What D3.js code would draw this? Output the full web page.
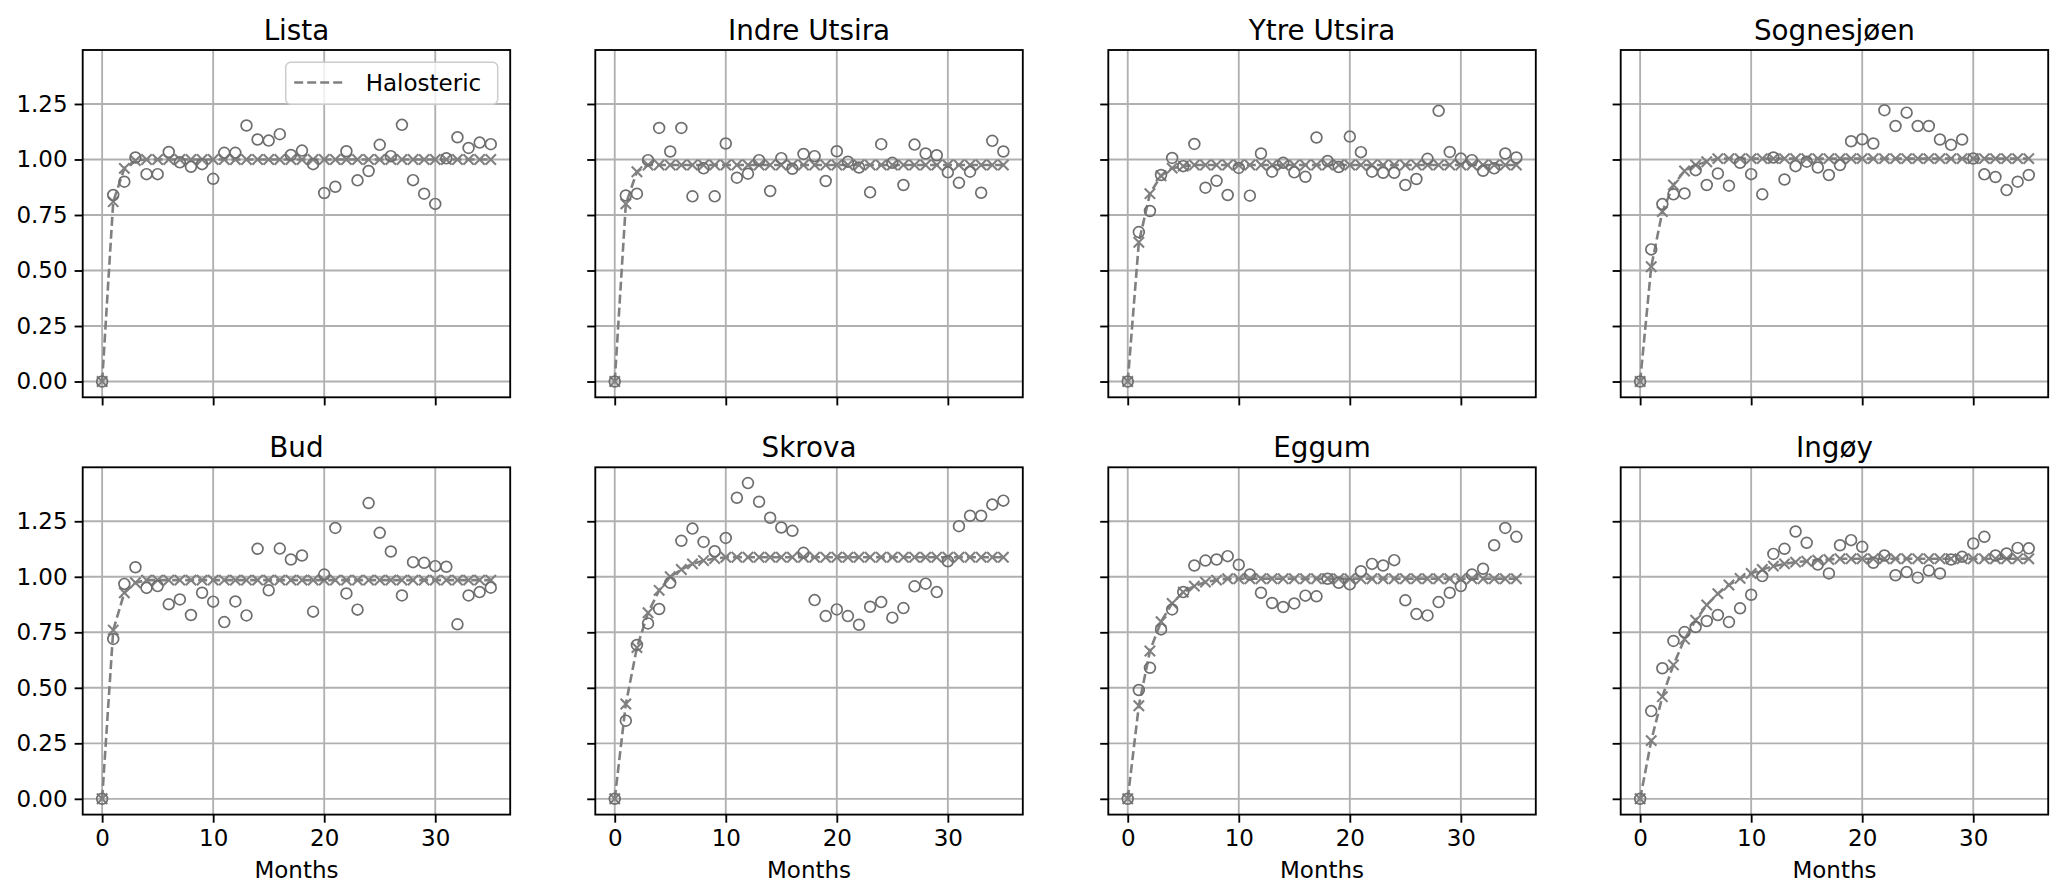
<!DOCTYPE html>
<html><head><meta charset="utf-8">
<script src="https://cdn.jsdelivr.net/npm/d3@7"></script>
<style>
body{margin:0;background:#fff}
svg{display:block}
text{font-family:"DejaVu Sans",sans-serif;fill:#000}
</style>
</head><body>
<svg id="chart" width="2067" height="896"></svg>
<script>
// ---------------- DATA ----------------
const stations = ["Lista","Indre Utsira","Ytre Utsira","Sognesjøen","Bud","Skrova","Eggum","Ingøy"];
const months = [0,1,2,3,4,5,6,7,8,9,10,11,12,13,14,15,16,17,18,19,20,21,22,23,24,25,26,27,28,29,30,31,32,33,34,35];
const xTickValues = [0,10,20,30];
const yTickValues = [0,0.25,0.5,0.75,1.0,1.25];
const legendLabel = "Halosteric";
const xLabel = "Months";

// Halosteric model response (x markers + dashed line)
const listaModel  = [0,0.81,0.96,0.995,1,1,1,1,1,1,1,1,1,1,1,1,1,1,1,1,1,1,1,1,1,1,1,1,1,1,1,1,1,1,1,1];
const indreModel  = [0,0.80,0.945,0.975,0.975,0.975,0.975,0.975,0.975,0.975,0.975,0.975,0.975,0.975,0.975,0.975,0.975,0.975,0.975,0.975,0.975,0.975,0.975,0.975,0.975,0.975,0.975,0.975,0.975,0.975,0.975,0.975,0.975,0.975,0.975,0.975];
const ytreModel   = [0,0.627,0.846,0.927,0.961,0.97,0.975,0.975,0.975,0.975,0.975,0.975,0.975,0.975,0.975,0.975,0.975,0.975,0.975,0.975,0.975,0.975,0.975,0.975,0.975,0.975,0.975,0.975,0.975,0.975,0.975,0.975,0.975,0.975,0.975,0.975];
const sognModel   = [0,0.517,0.765,0.885,0.948,0.975,0.99,1.004,1.004,1.004,1.004,1.004,1.004,1.004,1.004,1.004,1.004,1.004,1.004,1.004,1.004,1.004,1.004,1.004,1.004,1.004,1.004,1.004,1.004,1.004,1.004,1.004,1.004,1.004,1.004,1.004];
const budModel    = [0,0.76,0.928,0.973,0.985,0.985,0.985,0.985,0.985,0.985,0.985,0.985,0.985,0.985,0.985,0.985,0.985,0.985,0.985,0.985,0.985,0.985,0.985,0.985,0.985,0.985,0.985,0.985,0.985,0.985,0.985,0.985,0.985,0.985,0.985,0.985];
const skrovaModel = [0,0.427,0.681,0.838,0.939,1.0,1.033,1.058,1.073,1.082,1.088,1.088,1.088,1.088,1.088,1.088,1.088,1.088,1.088,1.088,1.088,1.088,1.088,1.088,1.088,1.088,1.088,1.088,1.088,1.088,1.088,1.088,1.088,1.088,1.088,1.088];
const eggumModel  = [0,0.419,0.666,0.798,0.88,0.931,0.958,0.976,0.985,0.991,0.991,0.991,0.991,0.991,0.991,0.991,0.991,0.991,0.991,0.991,0.991,0.991,0.991,0.991,0.991,0.991,0.991,0.991,0.991,0.991,0.991,0.991,0.991,0.991,0.991,0.991];
const ingoyModel  = [0,0.262,0.46,0.603,0.719,0.804,0.873,0.924,0.963,0.993,1.015,1.033,1.048,1.058,1.066,1.07,1.075,1.078,1.081,1.081,1.081,1.081,1.081,1.081,1.081,1.081,1.081,1.081,1.081,1.081,1.081,1.081,1.081,1.081,1.081,1.081];

// Observed response (open circles)
const listaObs  = [0,0.84,0.90,1.009,0.934,0.934,1.034,0.987,0.967,0.979,0.913,1.03,1.03,1.153,1.09,1.085,1.114,1.02,1.04,0.979,0.849,0.877,1.037,0.906,0.948,1.066,1.015,1.156,0.907,0.846,0.80,1.005,1.10,1.052,1.076,1.069];
const indreObs  = [0,0.838,0.846,0.997,1.142,1.036,1.142,0.834,0.96,0.834,1.072,0.918,0.936,0.997,0.858,1.006,0.958,1.025,1.015,0.903,1.037,0.99,0.964,0.852,1.069,0.985,0.885,1.067,1.027,1.019,0.942,0.895,0.945,0.85,1.084,1.036];
const ytreObs   = [0,0.673,0.768,0.93,1.007,0.97,1.07,0.873,0.904,0.84,0.962,0.837,1.027,0.945,0.985,0.942,0.922,1.099,0.993,0.966,1.103,1.033,0.945,0.94,0.94,0.885,0.912,1.003,1.219,1.034,1.004,0.997,0.949,0.96,1.027,1.009];
const sognObs   = [0,0.595,0.799,0.843,0.847,0.952,0.885,0.937,0.882,0.985,0.934,0.843,1.009,0.91,0.97,0.99,0.964,0.93,0.975,1.082,1.091,1.072,1.222,1.151,1.211,1.151,1.151,1.09,1.066,1.09,1.004,0.933,0.921,0.862,0.9,0.93];
const budObs    = [0,0.72,0.968,1.043,0.95,0.958,0.876,0.898,0.828,0.928,0.888,0.796,0.889,0.826,1.126,0.939,1.127,1.078,1.096,0.843,1.01,1.22,0.925,0.852,1.332,1.198,1.114,0.916,1.066,1.063,1.048,1.045,0.786,0.916,0.931,0.951];
const skrovaObs = [0,0.352,0.693,0.79,0.855,0.973,1.162,1.217,1.157,1.115,1.175,1.356,1.422,1.338,1.266,1.222,1.207,1.108,0.895,0.823,0.853,0.823,0.784,0.865,0.886,0.816,0.859,0.957,0.969,0.931,1.07,1.228,1.275,1.275,1.325,1.343];
const eggumObs  = [0,0.49,0.59,0.763,0.853,0.931,1.051,1.073,1.078,1.093,1.054,1.01,0.928,0.882,0.864,0.88,0.915,0.912,0.991,0.973,0.966,1.025,1.058,1.051,1.075,0.894,0.832,0.826,0.886,0.928,0.958,1.01,1.036,1.142,1.22,1.18];
const ingoyObs  = [0,0.395,0.588,0.711,0.751,0.774,0.801,0.828,0.796,0.858,0.919,1.003,1.103,1.126,1.204,1.153,1.055,1.015,1.142,1.165,1.135,1.063,1.096,1.007,1.021,0.996,1.028,1.015,1.078,1.09,1.15,1.18,1.096,1.105,1.13,1.128];

const modelSeries = [listaModel,indreModel,ytreModel,sognModel,budModel,skrovaModel,eggumModel,ingoyModel];
const obsSeries   = [listaObs,indreObs,ytreObs,sognObs,budObs,skrovaObs,eggumObs,ingoyObs];

// ---------------- LAYOUT / STYLE ----------------
const colLeft = [82.7, 595.3, 1108.3, 1620.7];
const rowTop = [50, 467.3];
const pw = 427.5, ph = 347.3;
const gray = "#808080", obsColor = "#6e6e6e", gridColor = "#b0b0b0";
const lw = 1.85;
const tickLen = 8.1;
const tickFont = 23, titleFont = 27.8;
const lineW = 2.6;

const svg = d3.select("#chart");

const xExt = d3.extent(months);
const xPad = (xExt[1]-xExt[0])*0.05;
const x = d3.scaleLinear().domain([xExt[0]-xPad, xExt[1]+xPad]).range([0, pw]);
const allY = modelSeries.flat().concat(obsSeries.flat());
const yExt = d3.extent(allY);
const yPad = (yExt[1]-yExt[0])*0.05;
const y = d3.scaleLinear().domain([yExt[0]-yPad, yExt[1]+yPad]).range([ph, 0]);

stations.forEach((name, i) => {
  const r = Math.floor(i/4), c = i%4;
  const g = svg.append("g").attr("transform", `translate(${colLeft[c]},${rowTop[r]})`);

  g.append("g").selectAll("line").data(xTickValues).join("line")
    .attr("x1", d=>x(d)).attr("x2", d=>x(d)).attr("y1",0).attr("y2",ph)
    .attr("stroke", gridColor).attr("stroke-width", lw);
  g.append("g").selectAll("line").data(yTickValues).join("line")
    .attr("y1", d=>y(d)).attr("y2", d=>y(d)).attr("x1",0).attr("x2",pw)
    .attr("stroke", gridColor).attr("stroke-width", lw);

  const model = modelSeries[i], obs = obsSeries[i];
  const pts = months.map((m,k)=>({m, v:model[k]}));
  const ops = months.map((m,k)=>({m, v:obs[k]}));

  g.append("path").datum(pts)
    .attr("d", d3.line().x(d=>x(d.m)).y(d=>y(d.v)))
    .attr("fill","none").attr("stroke",gray).attr("stroke-width",lineW)
    .attr("stroke-dasharray","9,4");

  const s = 5.2;
  g.append("g").selectAll("path").data(pts).join("path")
    .attr("d", d=>{const cx=x(d.m), cy=y(d.v); return `M${cx-s},${cy-s}L${cx+s},${cy+s}M${cx-s},${cy+s}L${cx+s},${cy-s}`;})
    .attr("stroke", gray).attr("stroke-width",2.1).attr("fill","none");

  g.append("g").selectAll("circle").data(ops).join("circle")
    .attr("cx", d=>x(d.m)).attr("cy", d=>y(d.v)).attr("r", 5.4)
    .attr("fill","none").attr("stroke",obsColor).attr("stroke-width",1.7);

  const xa = d3.axisBottom(x).tickValues(xTickValues).tickSize(tickLen).tickPadding(7)
    .tickFormat(r===1 ? d3.format("d") : ()=>"");
  const xg = g.append("g").attr("transform", `translate(0,${ph})`).call(xa);
  const ya = d3.axisLeft(y).tickValues(yTickValues).tickSize(tickLen).tickPadding(7)
    .tickFormat(c===0 ? d3.format(".2f") : ()=>"");
  const yg = g.append("g").call(ya);
  [xg,yg].forEach(a=>{
    a.select(".domain").remove();
    a.selectAll(".tick line").attr("stroke","#000").attr("stroke-width",lw);
    a.selectAll(".tick text").attr("font-family","DejaVu Sans").attr("font-size",tickFont).attr("fill","#000");
  });

  g.append("rect").attr("x",0).attr("y",0).attr("width",pw).attr("height",ph)
    .attr("fill","none").attr("stroke","#000").attr("stroke-width",lw);

  g.append("text").attr("x",pw/2).attr("y",-10.5).attr("text-anchor","middle")
    .attr("font-size",titleFont).text(name);

  if (r===1) {
    g.append("text").attr("x",pw/2).attr("y",ph+63).attr("text-anchor","middle")
      .attr("font-size",tickFont).text(xLabel);
  }

  if (i===0) {
    const lg = g.append("g");
    lg.append("rect").attr("x",203).attr("y",12.3).attr("width",212).attr("height",42)
      .attr("rx",5).attr("fill","#fff").attr("fill-opacity",0.8)
      .attr("stroke","#cccccc").attr("stroke-width",1.5);
    lg.append("line").attr("x1",211.5).attr("x2",261.5).attr("y1",32.5).attr("y2",32.5)
      .attr("stroke",gray).attr("stroke-width",lineW).attr("stroke-dasharray","9,4");
    lg.append("text").attr("x",283).attr("y",40.8).attr("font-size",tickFont).text(legendLabel);
  }
});
</script>
</body></html>
